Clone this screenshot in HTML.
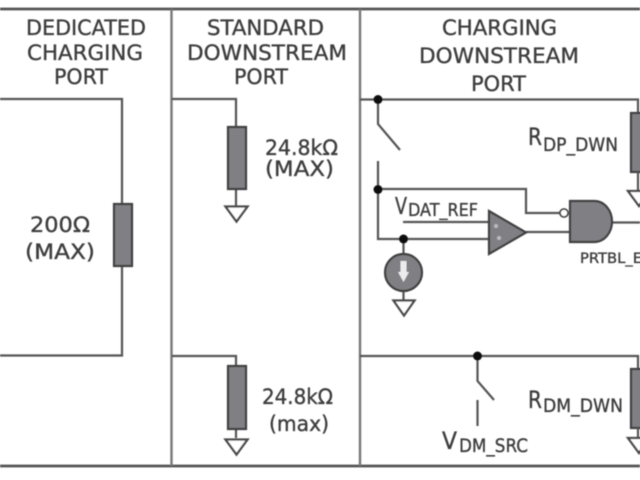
<!DOCTYPE html>
<html><head><meta charset="utf-8"><style>
html,body{margin:0;padding:0;background:#fff;width:640px;height:480px;overflow:hidden}
svg{display:block}
text{font-family:"DejaVu Sans","Liberation Sans",sans-serif;fill:#3c3c3c;stroke:#3c3c3c;stroke-width:.35}
.l{fill:none;stroke:#555;stroke-width:2.2}
.r{fill:#808084;stroke:#3f3f3f;stroke-width:2.2}
.g{fill:#fff;stroke:#484848;stroke-width:2.3}
.d{fill:#111}
</style></head><body>
<svg width="640" height="480" viewBox="0 0 640 480" xmlns="http://www.w3.org/2000/svg">
<defs><filter id="b" x="-5%" y="-5%" width="110%" height="110%"><feGaussianBlur stdDeviation="0.5"/></filter></defs>
<rect width="640" height="480" fill="#fff"/>
<g filter="url(#b)">
<path class="l" style="stroke-width:2.8" d="M0 9H640M0 466H640"/>
<path class="l" style="stroke:#777;stroke-width:2.4" d="M171.500 9V466M360 9V466"/>
<path class="l" d="M0 99H122V355.500H0M172 99H236V206M172 356H236V438"/>
<rect class="r" x="114" y="204" width="18" height="62"/>
<rect class="r" x="228" y="127" width="18" height="62"/>
<rect class="r" x="228" y="366" width="18" height="63"/>
<path class="g" d="M225.500 206.500H247.500L236.500 221.500Z"/>
<path class="g" d="M225.500 439.500H247.500L236.500 454.500Z"/>
<path class="l" d="M360 99.500H638V113M378 99.500V124L400 150M378 161V239H489M378 189H526V213H560M403 222H489M526 232H570M612 222.500H640M403.500 239V255M403.500 290V301"/>
<path class="r" d="M489 211L526 232.500L489 254Z"/>
<circle cx="496" cy="226" r="2" fill="#bbb"/><circle cx="499" cy="238" r="2" fill="#bbb"/>
<path class="r" d="M570 201H594C605 201 612 211 612 221.500C612 232 605 242 594 242H570Z"/>
<circle cx="564" cy="213" r="4" fill="#fff" stroke="#444" stroke-width="1.800"/>
<circle class="d" cx="378" cy="99.500" r="4.500"/>
<circle class="d" cx="378" cy="189.500" r="4.500"/>
<circle class="d" cx="403.500" cy="239" r="4.500"/>
<circle cx="403.500" cy="272.500" r="18.500" class="r"/>
<path d="M400.500 261H406.500V272H409L403.500 282L398 272H400.500Z" fill="#ececec"/>
<path class="g" d="M393.500 300.500H414.500L404 315.500Z"/>
<rect class="r" x="631" y="113" width="12" height="59"/>
<path class="l" d="M638 172V191"/>
<path class="g" d="M628 191H650L639 206Z"/>
<path class="l" d="M360 356H638V369M477.500 356V381L494 400M477.500 400V426"/>
<circle class="d" cx="477.500" cy="356" r="4.500"/>
<rect class="r" x="631" y="369" width="12" height="59"/>
<path class="l" d="M638 428V438"/>
<path class="g" d="M628 438H650L639 453Z"/>
</g>
<g filter="url(#b)" font-size="21">
<text x="26" y="35" textLength="120" lengthAdjust="spacingAndGlyphs">DEDICATED</text>
<text x="27" y="60" textLength="116" lengthAdjust="spacingAndGlyphs">CHARGING</text>
<text x="54" y="84" textLength="54" lengthAdjust="spacingAndGlyphs">PORT</text>
<text x="207" y="35" textLength="117" lengthAdjust="spacingAndGlyphs">STANDARD</text>
<text x="187" y="60" textLength="160" lengthAdjust="spacingAndGlyphs">DOWNSTREAM</text>
<text x="234" y="84" textLength="54" lengthAdjust="spacingAndGlyphs">PORT</text>
<text x="442" y="35" textLength="115" lengthAdjust="spacingAndGlyphs">CHARGING</text>
<text x="419" y="63" textLength="160" lengthAdjust="spacingAndGlyphs">DOWNSTREAM</text>
<text x="471" y="91" textLength="55" lengthAdjust="spacingAndGlyphs">PORT</text>
<text x="30" y="232" textLength="60" lengthAdjust="spacingAndGlyphs">200Ω</text>
<text x="25" y="259" textLength="70" lengthAdjust="spacingAndGlyphs">(MAX)</text>
<text x="265" y="155" textLength="73" lengthAdjust="spacingAndGlyphs">24.8kΩ</text>
<text x="265" y="176" textLength="69" lengthAdjust="spacingAndGlyphs">(MAX)</text>
<text x="262" y="404" textLength="71" lengthAdjust="spacingAndGlyphs">24.8kΩ</text>
<text x="269" y="431" textLength="60" lengthAdjust="spacingAndGlyphs">(max)</text>
<text x="395" y="214" font-size="23" textLength="12" lengthAdjust="spacingAndGlyphs">V</text>
<text x="408" y="216" font-size="18" textLength="70" lengthAdjust="spacingAndGlyphs">DAT_REF</text>
<text x="528" y="145" font-size="24" textLength="14" lengthAdjust="spacingAndGlyphs">R</text>
<text x="543" y="151" font-size="19" textLength="75" lengthAdjust="spacingAndGlyphs">DP_DWN</text>
<text x="580" y="263" font-size="14" textLength="62" lengthAdjust="spacingAndGlyphs">PRTBL_E</text>
<text x="528" y="408" font-size="24" textLength="14" lengthAdjust="spacingAndGlyphs">R</text>
<text x="543" y="412" font-size="19" textLength="80" lengthAdjust="spacingAndGlyphs">DM_DWN</text>
<text x="442" y="449" font-size="24" textLength="15" lengthAdjust="spacingAndGlyphs">V</text>
<text x="459" y="452" font-size="19" textLength="69" lengthAdjust="spacingAndGlyphs">DM_SRC</text>
</g>
</svg>
</body></html>
